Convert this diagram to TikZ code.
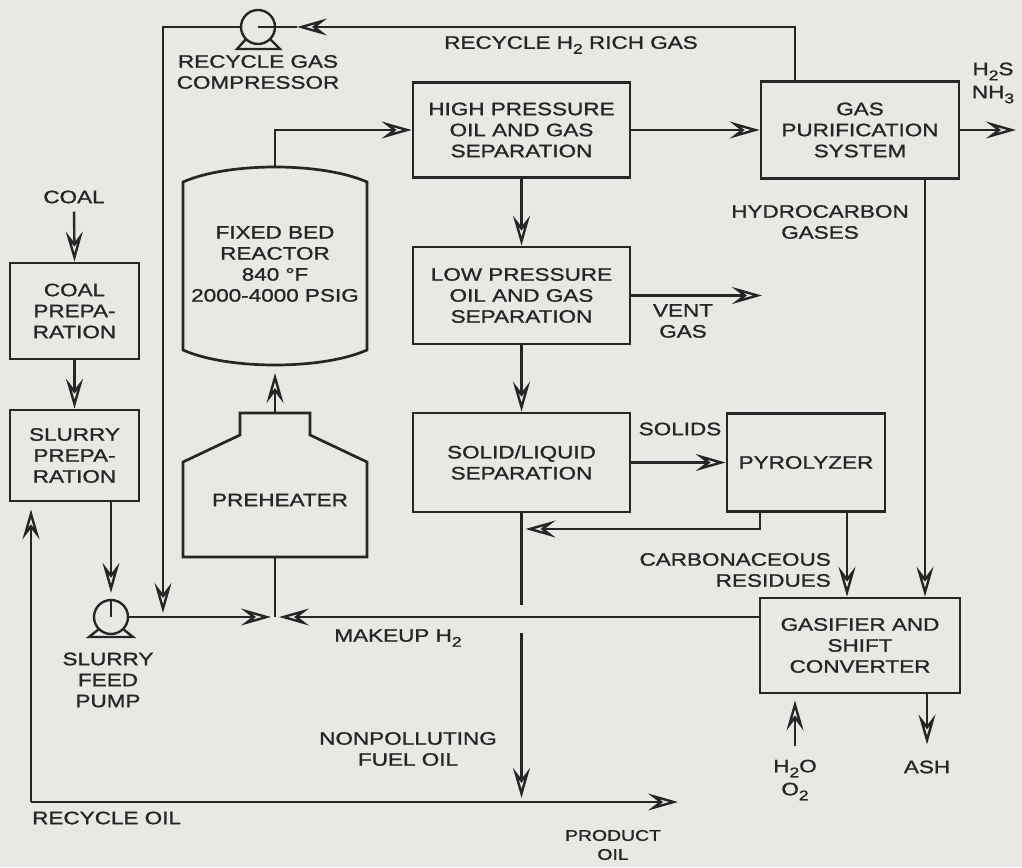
\documentclass[tikz,border=0pt]{standalone}
\usepackage{fontspec}
\setmainfont{Liberation Sans}[FakeStretch=1.25, FakeBold=1.2]
\usepackage{tikz}
\usetikzlibrary{arrows.meta, positioning, calc}
\definecolor{pfInk}{HTML}{262626}
\definecolor{pfPaper}{HTML}{E8E8E4}
\newcommand\lowidx[1]{\raisebox{-5pt}{\fontsize{14}{14}\selectfont #1}}

\begin{document}
\begin{tikzpicture}[x=1pt, y=-1pt,
  every node/.style={font=\fontsize{18}{21}\selectfont, text=pfInk, inner sep=0pt, align=center},
  unit/.style={draw=pfInk, line width=2.7pt},
  pipe/.style={draw=pfInk, line width=2.4pt},
  flow/.style={pipe, -{Stealth[open, length=30pt, width=17pt, inset=11pt]}},
  small/.style={font=\fontsize{15.5}{19}\selectfont}]
  % tlo
  \fill[pfPaper] (0,0) rectangle (1022,867);
  \useasboundingbox (0,0) rectangle (1022,867);
  % bloki procesu
  \node[unit, minimum width=129pt, minimum height=96pt] (coalprep) at (74.5,311) {COAL\\PREPA-\\RATION};
  \node[unit, minimum width=129pt, minimum height=91pt] (slurryprep) at (74.5,455.5) {SLURRY\\PREPA-\\RATION};
  \node[unit, minimum width=217pt, minimum height=95pt] (hpsep) at (521.5,130) {HIGH PRESSURE\\OIL AND GAS\\SEPARATION};
  \node[unit, minimum width=217pt, minimum height=97pt] (lpsep) at (521.5,295.5) {LOW PRESSURE\\OIL AND GAS\\SEPARATION};
  \node[unit, minimum width=217pt, minimum height=99pt] (slsep) at (521.5,462.5) {SOLID/LIQUID\\SEPARATION};
  \node[unit, minimum width=158pt, minimum height=98pt] (pyro) at (806,462.5) {PYROLYZER};
  \node[unit, minimum width=198pt, minimum height=97pt] (gps) at (860,130) {GAS\\PURIFICATION\\SYSTEM};
  \node[unit, minimum width=200pt, minimum height=95pt] (gasifier) at (860,645.5) {GASIFIER AND\\SHIFT\\CONVERTER};
  % reaktor
  \draw[unit] (183,182) .. controls (228,162) and (322,162) .. (367,182) -- (367,350)
    .. controls (322,370) and (228,370) .. (183,350) -- cycle;
  \coordinate (rxtop) at (275,167);
  \coordinate (rxbot) at (275,365);
  \node (reactor) at (275,264) {FIXED BED\\REACTOR\\840 °F\\2000-4000 PSIG};
  % podgrzewacz
  \draw[unit] (183,557) -- (183,462) -- (240,435) -- (240,413) -- (310,413) -- (310,435)
    -- (367,462) -- (367,557) -- cycle;
  \coordinate (phtop) at (275,413);
  \coordinate (phbot) at (275,557);
  \node (preheater) at (280,500) {PREHEATER};
  % sprezarka i pompa
  \node[pipe, circle, minimum size=34pt] (compressor) at (258,27) {};
  \draw[pipe] (246,39) -- (237,49) -- (280,49) -- (270,39);
  \node (cmplabel) at (258,72) {RECYCLE GAS\\COMPRESSOR};
  \node[pipe, circle, minimum size=34pt] (pump) at (111,617) {};
  \draw[pipe] (99,629) -- (89,637) -- (133,637) -- (123,629);
  \draw[pipe] (pump.north) -- (pump.center);
  \node (pumplabel) at (108,680) {SLURRY\\FEED\\PUMP};
  % punkty wezlowe
  \coordinate (junc) at (275,617);
  \coordinate (gasin) at (163,617);
  \coordinate (cmpin) at (297,27);
  \coordinate (retin) at (521.5,529);
  \coordinate (crosstop) at (521.5,605);
  \coordinate (crossbot) at (521.5,633);
  \coordinate (prodjoin) at (521.5,802);
  \coordinate (oilcorner) at (31,802);
  \coordinate (prodout) at (678,802);
  \coordinate (ventout) at (762,295.5);
  \coordinate (gasout) at (1016,130);
  % opisy strumieni
  \node (coal) at (74,197) {COAL};
  \node (recyclegas) at (571,45) {RECYCLE H\lowidx{2} RICH GAS};
  \node (acidgas) at (993,83) {H\lowidx{2}S\\[2pt]NH\lowidx{3}};
  \node (hcgas) at (820,222) {HYDROCARBON\\GASES};
  \node (vent) at (683,321) {VENT\\GAS};
  \node (solids) at (680,429) {SOLIDS};
  \node[anchor=east, align=right] (carbres) at (831,570) {CARBONACEOUS\\RESIDUES};
  \node (makeup) at (398,638) {MAKEUP H\lowidx{2}};
  \node (fueloil) at (408,749) {NONPOLLUTING\\FUEL OIL};
  \node[anchor=west] (recycleoil) at (32,818) {RECYCLE OIL};
  \node[small] (product) at (613,845) {PRODUCT\\OIL};
  \node (h2o) at (795,780) {H\lowidx{2}O\\[2pt]O\lowidx{2}};
  \node (ash) at (927,767) {ASH};
  % strumienie
  \draw[flow, shorten <=8pt] (coal.south) -- (coalprep.north);
  \draw[flow] (coalprep) -- (slurryprep);
  \draw[flow, shorten >=6pt] (slurryprep.south -| pump) -- (pump.north);
  \draw[flow, shorten >=4pt] (pump.east) -- (junc);
  \draw[flow, shorten >=4pt] (gasifier.west |- junc) -- (junc);
  \draw[pipe] (phbot) -- (junc);
  \draw[flow, shorten >=8pt] (phtop) -- (rxbot);
  \draw[flow] (rxtop) |- (hpsep.west);
  \draw[flow] (hpsep) -- (gps);
  \draw[flow] (gps.east) -- (gasout);
  \draw[flow] ([xshift=-65pt]gps.north) |- (cmpin);
  \draw[pipe] (cmpin) -- (compressor.center);
  \draw[flow, shorten >=4pt] (compressor.west) -| (gasin);
  \draw[flow] (hpsep) -- (lpsep);
  \draw[flow] (lpsep.east) -- (ventout);
  \draw[flow] (lpsep) -- (slsep);
  \draw[flow] (slsep) -- (pyro);
  \draw[flow, shorten >=4pt] ([xshift=-46pt]pyro.south) |- (retin);
  \draw[flow] ([xshift=41pt]pyro.south) -- ([xshift=-13pt]gasifier.north);
  \draw[flow] ([xshift=65pt]gps.south) -- ([xshift=65pt]gasifier.north);
  \draw[pipe] (slsep) -- (crosstop);
  \draw[flow, shorten >=4pt] (crossbot) -- (prodjoin);
  \draw[flow, shorten >=7pt] (oilcorner) -- (slurryprep.south -| oilcorner);
  \draw[flow] (oilcorner) -- (prodout);
  \draw[flow, shorten <=14pt, shorten >=6pt] (h2o.north) -- (gasifier.south -| h2o.north);
  \draw[flow, shorten >=16pt] ([xshift=67pt]gasifier.south) -- (ash.north);
\end{tikzpicture}
\end{document}
